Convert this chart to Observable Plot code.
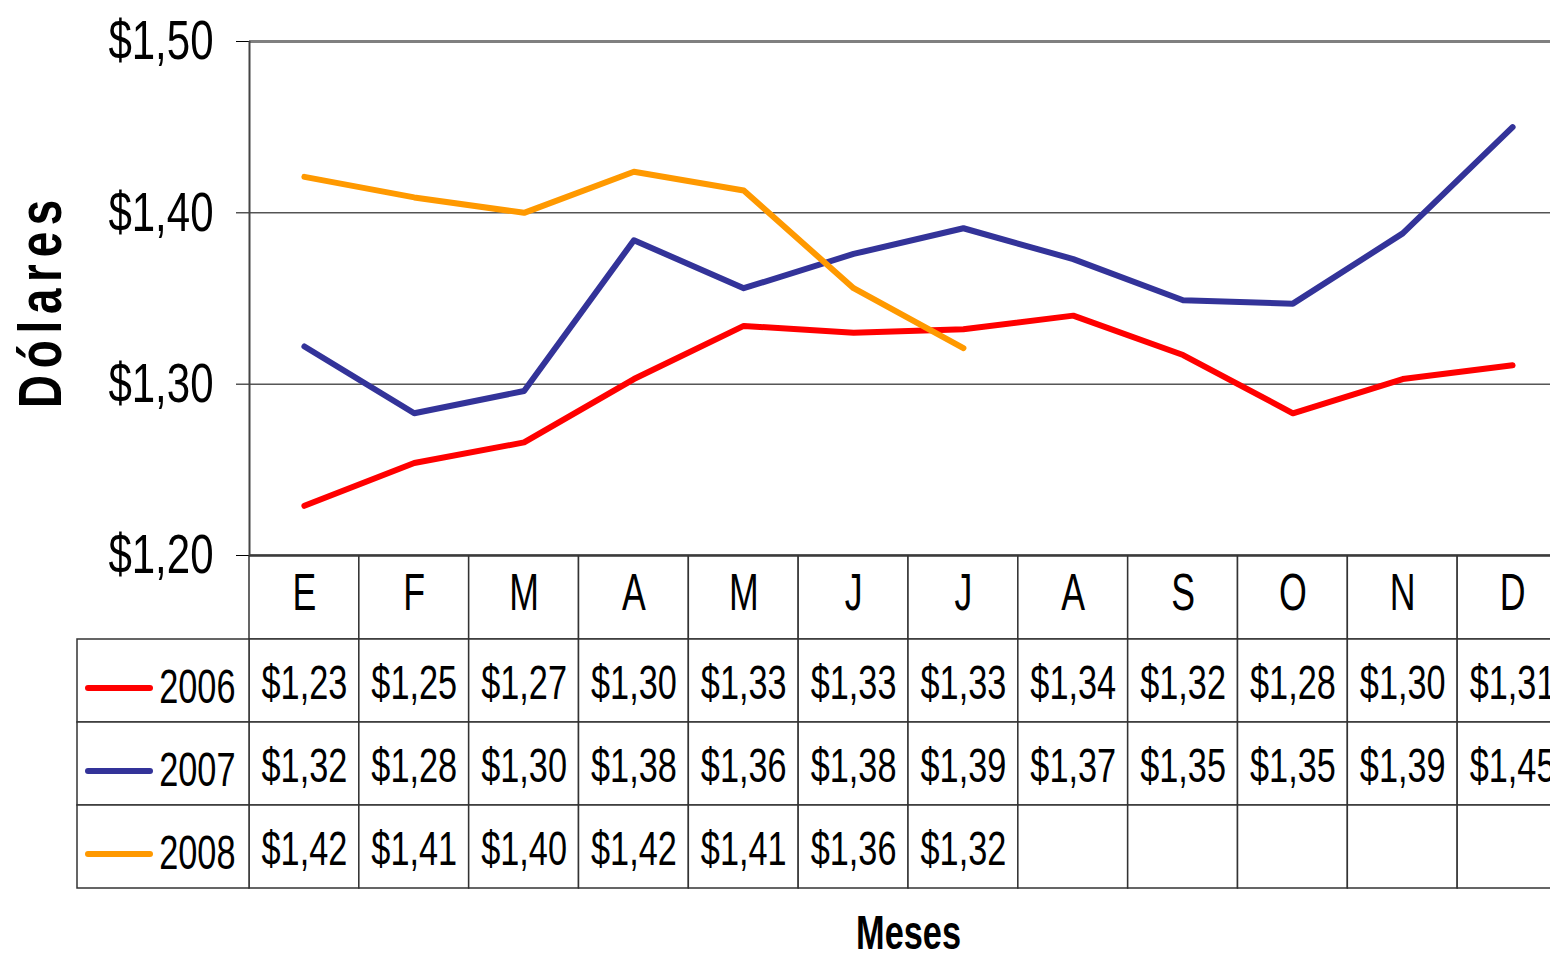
<!DOCTYPE html>
<html><head><meta charset="utf-8">
<script src="https://cdn.jsdelivr.net/npm/d3@7"></script>
<script src="https://cdn.jsdelivr.net/npm/@observablehq/plot@0.6"></script>
<style>
html,body{margin:0;padding:0;background:#fff;overflow:hidden;width:1550px;height:954px;}
#wrap{position:relative;width:1550px;height:954px;overflow:hidden;}
#wrap svg{max-width:none !important;overflow:visible;position:absolute;left:0;background:transparent;}
</style></head><body><div id="wrap"></div>
<script>
const months = ["E","F","M","A","M","J","J","A","S","O","N","D"];
const years = ["2006","2007","2008"];
const colors = ["#FF0000","#333399","#FF9900"];
const v2006 = [1.229, 1.254, 1.266, 1.303, 1.334, 1.330, 1.332, 1.340, 1.317, 1.283, 1.303, 1.311];
const v2007 = [1.322, 1.283, 1.296, 1.384, 1.356, 1.376, 1.391, 1.373, 1.349, 1.347, 1.388, 1.450];
const v2008 = [1.421, 1.409, 1.400, 1.424, 1.413, 1.356, 1.321];
const yTicks = [1.20, 1.30, 1.40, 1.50];
const yLabel = "Dólares";
const xLabel = "Meses";

const fmt = d => "$" + d.toFixed(2).replace(".", ",");
const series = [v2006, v2007, v2008];
const points = years.flatMap((y, k) => series[k].map((v, i) => ({year: y, i, value: v})));
const xDomain = [-0.5, months.length - 0.5];
const font = "'Liberation Sans', Arial, sans-serif";
const baseStyle = {fontFamily: font, color: "#000", background: "transparent", overflow: "visible"};

const chart = Plot.plot({
  width: 1568, height: 560, marginLeft: 249, marginRight: 1, marginTop: 41, marginBottom: 5,
  style: {...baseStyle, fontSize: "56px"},
  x: {domain: xDomain, axis: null},
  y: {domain: [yTicks[0], yTicks[yTicks.length - 1]], ticks: yTicks, tickFormat: fmt, tickSize: 13, tickPadding: 23, label: null},
  color: {domain: years, range: colors},
  marks: [
    Plot.ruleY(yTicks.slice(1, -1), {stroke: "#000", strokeWidth: 1}),
    Plot.ruleY([yTicks[yTicks.length - 1]], {stroke: "#808080", strokeWidth: 3}),
    Plot.ruleY([yTicks[0]], {stroke: "#555", strokeWidth: 3}),
    Plot.ruleX([xDomain[0]], {stroke: "#444", strokeWidth: 2}),
    Plot.line(points, {x: "i", y: "value", z: "year", stroke: "year", strokeWidth: 6, strokeLinecap: "round", strokeLinejoin: "round"}),
    Plot.text([yLabel], {text: d => d, frameAnchor: "left", textAnchor: "middle", dx: -208, dy: 2, rotate: -90, fontSize: 61, fontWeight: "bold"})
  ]
});
chart.style.top = "0px";

const rowDomain = ["mes", ...years];
const header = months.map((m, i) => ({i, row: "mes", text: m}));
const cells = years.flatMap((y, k) => months.map((m, i) => ({i, row: y, value: series[k][i]})));
const allCells = [...header, ...cells];

const table = Plot.plot({
  width: 1568, height: 399, marginLeft: 249, marginRight: 1, marginTop: 0, marginBottom: 65,
  style: {...baseStyle, fontSize: "49px"},
  x: {domain: xDomain, axis: null},
  y: {domain: rowDomain, axis: null, padding: 0},
  color: {domain: years, range: colors},
  marks: [
    Plot.barX(allCells, {x1: d => d.i - 0.5, x2: d => d.i + 0.5, y: "row", fill: "white", stroke: "#333", strokeWidth: 1.5}),
    Plot.barX(years, {x1: xDomain[0], x2: xDomain[0], y: d => d, insetLeft: -172, fill: "white", stroke: "#333", strokeWidth: 1.5}),
    Plot.barX(years, {x1: xDomain[0], x2: xDomain[0], y: d => d, fill: d => d, insetLeft: -164, insetRight: 96, insetTop: 46, insetBottom: 31, rx: 3}),
    Plot.text(years, {x: xDomain[0], y: d => d, text: d => d, textAnchor: "end", dx: -14, dy: 6, fontSize: 49}),
    Plot.text(header, {x: "i", y: "row", text: "text", fontSize: 51, dy: -4}),
    Plot.text(cells.filter(d => d.value != null), {x: "i", y: "row", text: d => fmt(d.value), fontSize: 49, dy: 2}),
    Plot.text([xLabel], {text: d => d, frameAnchor: "bottom", dy: 59, fontSize: 49, fontWeight: "bold"})
  ]
});
table.style.top = "555px";

const wrap = document.getElementById("wrap");
wrap.appendChild(chart);
wrap.appendChild(table);

// narrow the glyphs horizontally (the reference uses a condensed face)
function condense(sel, factor) {
  sel.each(function() {
    const L = this.getComputedTextLength();
    if (L > 0) {
      this.setAttribute("textLength", (L * factor).toFixed(1));
      this.setAttribute("lengthAdjust", "spacingAndGlyphs");
    }
  });
}
const isYLabel = function() { return this.textContent.indexOf("lares") >= 0; };
d3.select(chart).selectAll("text").filter(isYLabel).attr("letter-spacing", "9px").style("letter-spacing", "9px");
condense(d3.select(chart).selectAll("text"), 0.75);
condense(d3.select(table).selectAll("text"), 0.70);
</script></body></html>
